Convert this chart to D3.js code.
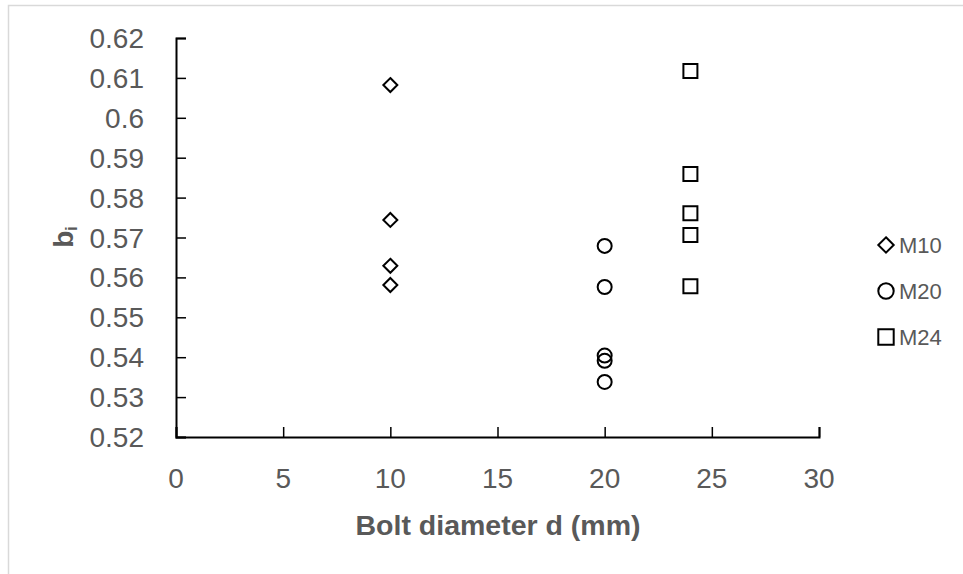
<!DOCTYPE html>
<html><head><meta charset="utf-8">
<script src="https://cdn.jsdelivr.net/npm/d3@7"></script>
<style>body{margin:0;background:#fff}svg{display:block}</style>
</head><body>
<svg id="c" width="963" height="574"></svg>
<script>
const seriesNames = ["M10", "M20", "M24"];
const m10X = [10, 10, 10, 10];
const m10Y = [0.6082, 0.5744, 0.5629, 0.5581];
const m20X = [20, 20, 20, 20, 20];
const m20Y = [0.5679, 0.5576, 0.5404, 0.5391, 0.5338];
const m24X = [24, 24, 24, 24, 24];
const m24Y = [0.6117, 0.5859, 0.5761, 0.5706, 0.5578];
const xTicks = [0, 5, 10, 15, 20, 25, 30];
const yTicks = [0.52, 0.53, 0.54, 0.55, 0.56, 0.57, 0.58, 0.59, 0.6, 0.61, 0.62];

const svg = d3.select("#c");
const font = "'Liberation Sans', Arial, sans-serif";
const grey = "#595959";

svg.append("rect").attr("x", 8.5).attr("y", 5.5).attr("width", 1000).attr("height", 1000)
  .attr("fill", "#fff").attr("stroke", "#d9d9d9").attr("stroke-width", 1.5);

const x = d3.scaleLinear().domain([0, 30]).range([176, 819]);
const y = d3.scaleLinear().domain([0.52, 0.62]).range([437, 38]);

const gx = svg.append("g").attr("transform", `translate(0,${y(0.52)})`)
  .call(d3.axisTop(x).tickValues(xTicks).tickSize(10).tickFormat(""));
const gy = svg.append("g").attr("transform", `translate(${x(0)},0)`)
  .call(d3.axisRight(y).tickValues(yTicks).tickSize(10).tickFormat(""));
[gx, gy].forEach(g => {
  g.selectAll("path").attr("stroke", "#000").attr("stroke-width", 2);
  g.selectAll("line").attr("stroke", "#000").attr("stroke-width", 1.5);
});

svg.append("g").selectAll("text").data(xTicks).join("text")
  .attr("x", d => x(d)).attr("y", 488).attr("text-anchor", "middle")
  .attr("font-family", font).attr("font-size", 28).attr("fill", grey)
  .text(d => d);
svg.append("g").selectAll("text").data(yTicks).join("text")
  .attr("x", 144).attr("y", d => y(d) + 10).attr("text-anchor", "end")
  .attr("font-family", font).attr("font-size", 28).attr("fill", grey)
  .text(d => d3.format("")(d));

svg.append("text").attr("x", 498).attr("y", 535).attr("text-anchor", "middle")
  .attr("font-family", font).attr("font-size", 28.5).attr("font-weight", "bold").attr("fill", grey)
  .text("Bolt diameter d (mm)");

const yl = svg.append("text").attr("transform", "translate(73,237) rotate(-90)")
  .attr("text-anchor", "middle").attr("font-family", font).attr("font-size", 28)
  .attr("font-weight", "bold").attr("fill", grey);
yl.append("tspan").text("b");
yl.append("tspan").attr("font-size", 16).attr("dy", 4).text("i");

function marker(s, k) {
  if (s === 0) { const h = 7 * k; return `M0,${-h}L${h},0L0,${h}L${-h},0Z`; }
  if (s === 1) { const r = 7 * k; return d3.symbol().type(d3.symbolCircle).size(Math.PI * r * r)(); }
  const a = 7 * k; return `M${-a},${-a}H${a}V${a}H${-a}Z`;
}

const data = [
  m10X.map((v, i) => [v, m10Y[i]]),
  m20X.map((v, i) => [v, m20Y[i]]),
  m24X.map((v, i) => [v, m24Y[i]])
];
data.forEach((pts, s) => {
  svg.append("g").selectAll("path").data(pts).join("path")
    .attr("d", marker(s, 1))
    .attr("transform", d => `translate(${x(d[0])},${y(d[1])})`)
    .attr("fill", "none").attr("stroke", "#000").attr("stroke-width", 2);
});

const lg = svg.append("g");
seriesNames.forEach((n, i) => {
  const ly = 245 + i * 46;
  lg.append("path").attr("d", marker(i, 1.1))
    .attr("transform", `translate(886,${ly})`)
    .attr("fill", "none").attr("stroke", "#000").attr("stroke-width", 2);
  lg.append("text").attr("x", 899).attr("y", ly + 8).attr("font-family", font)
    .attr("font-size", 22).attr("fill", grey).text(n);
});
</script>
</body></html>
